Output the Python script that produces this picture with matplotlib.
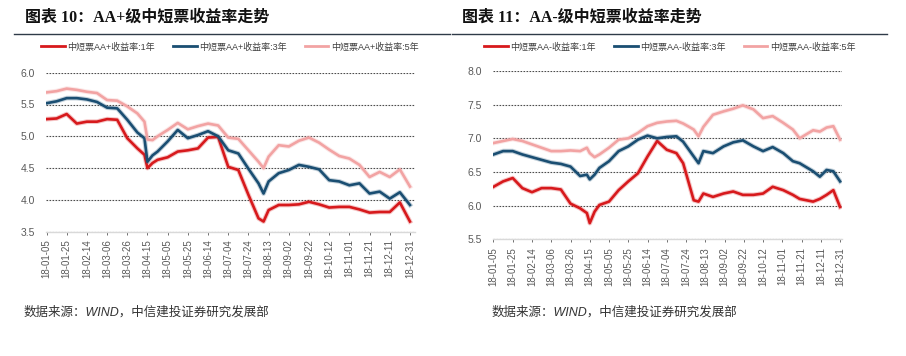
import numpy as np
import pandas as pd
import matplotlib
matplotlib.use("Agg")
import matplotlib.pyplot as plt
import matplotlib.dates as mdates
import matplotlib.patheffects as pe

plt.rcParams['font.family'] = ['Liberation Sans', 'Noto Sans CJK SC', 'DejaVu Sans']

# ---- left chart: AA+ ----
dates_l = pd.to_datetime([
    "2018-01-05", "2018-01-15", "2018-01-25", "2018-02-04", "2018-02-14", "2018-02-24",
    "2018-03-06", "2018-03-16", "2018-03-26", "2018-04-05", "2018-04-12", "2018-04-15",
    "2018-04-20", "2018-04-25", "2018-05-05", "2018-05-15", "2018-05-25", "2018-06-04",
    "2018-06-14", "2018-06-24", "2018-07-04", "2018-07-14", "2018-07-24", "2018-08-03",
    "2018-08-08", "2018-08-13", "2018-08-23", "2018-09-02", "2018-09-12", "2018-09-22",
    "2018-10-02", "2018-10-12", "2018-10-22", "2018-11-01", "2018-11-11", "2018-11-21",
    "2018-12-01", "2018-12-11", "2018-12-21", "2018-12-31"])
aap_1y = [5.27, 5.28, 5.35, 5.20, 5.23, 5.23, 5.27, 5.26, 4.97, 4.81,
          4.71, 4.50, 4.58, 4.63, 4.67, 4.76, 4.78, 4.81, 4.98, 4.99,
          4.52, 4.47, 4.08, 3.71, 3.66, 3.84, 3.92, 3.92, 3.93, 3.97,
          3.93, 3.88, 3.89, 3.89, 3.85, 3.80, 3.81, 3.81, 3.96, 3.66]
aap_3y = [5.52, 5.55, 5.60, 5.60, 5.58, 5.54, 5.45, 5.44, 5.26, 5.06,
          4.97, 4.60, 4.70, 4.76, 4.92, 5.10, 4.97, 5.02, 5.08, 5.00,
          4.78, 4.73, 4.49, 4.26, 4.10, 4.29, 4.42, 4.47, 4.55, 4.52,
          4.48, 4.31, 4.29, 4.23, 4.26, 4.10, 4.13, 4.02, 4.12, 3.92]
aap_5y = [5.69, 5.71, 5.75, 5.73, 5.70, 5.68, 5.57, 5.56, 5.47, 5.36,
          5.23, 4.95, 4.94, 5.00, 5.10, 5.21, 5.11, 5.16, 5.20, 5.17,
          4.98, 4.96, 4.78, 4.60, 4.50, 4.68, 4.86, 4.84, 4.93, 4.98,
          4.90, 4.79, 4.69, 4.65, 4.55, 4.36, 4.44, 4.36, 4.48, 4.21]

# ---- right chart: AA- ----
dates_r = pd.to_datetime([
    "2018-01-05", "2018-01-15", "2018-01-25", "2018-02-04", "2018-02-14", "2018-02-24",
    "2018-03-06", "2018-03-16", "2018-03-26", "2018-04-05", "2018-04-12", "2018-04-15",
    "2018-04-20", "2018-04-25", "2018-05-05", "2018-05-15", "2018-05-25", "2018-06-04",
    "2018-06-14", "2018-06-24", "2018-07-04", "2018-07-14", "2018-07-21", "2018-07-26",
    "2018-08-01", "2018-08-06", "2018-08-11", "2018-08-21", "2018-09-01", "2018-09-11",
    "2018-09-21", "2018-10-02", "2018-10-12", "2018-10-22", "2018-11-02", "2018-11-12",
    "2018-11-19", "2018-12-03", "2018-12-10", "2018-12-17", "2018-12-24", "2018-12-31"])
aam_1y = [6.28, 6.36, 6.41, 6.26, 6.20, 6.26, 6.26, 6.24, 6.03, 5.96,
          5.89, 5.74, 5.91, 6.01, 6.06, 6.23, 6.36, 6.48, 6.73, 6.96,
          6.83, 6.78, 6.63, 6.38, 6.08, 6.06, 6.18, 6.13, 6.18, 6.21,
          6.16, 6.16, 6.18, 6.28, 6.23, 6.16, 6.10, 6.06, 6.10, 6.16,
          6.23, 5.98]
aam_3y = [6.76, 6.81, 6.81, 6.76, 6.72, 6.68, 6.64, 6.62, 6.58, 6.44,
          6.46, 6.39, 6.46, 6.56, 6.66, 6.81, 6.88, 6.98, 7.04, 7.00,
          7.02, 7.03, 6.95, 6.85, 6.73, 6.63, 6.81, 6.78, 6.88, 6.94,
          6.97, 6.88, 6.81, 6.87, 6.78, 6.66, 6.63, 6.51, 6.43, 6.53,
          6.51, 6.36]
aam_5y = [6.93, 6.96, 6.99, 6.96, 6.91, 6.86, 6.81, 6.81, 6.82, 6.81,
          6.86, 6.78, 6.72, 6.76, 6.86, 6.98, 7.00, 7.08, 7.18, 7.23,
          7.25, 7.26, 7.22, 7.18, 7.13, 7.03, 7.17, 7.35, 7.40, 7.44,
          7.49, 7.43, 7.30, 7.33, 7.23, 7.13, 7.00, 7.12, 7.10, 7.16,
          7.18, 6.98]

tick_dates = pd.date_range("2018-01-05", "2018-12-31", freq="20D")
colors = ["#D7191C", "#1A4E72", "#F2A3A3"]
titles = ["图表 10：AA+级中短票收益率走势", "图表 11：AA-级中短票收益率走势"]
labels_l = ["中短票AA+收益率:1年", "中短票AA+收益率:3年", "中短票AA+收益率:5年"]
labels_r = ["中短票AA-收益率:1年", "中短票AA-收益率:3年", "中短票AA-收益率:5年"]
source = "数据来源：WIND，中信建投证券研究发展部"

fig = plt.figure(figsize=(9.06, 3.56), dpi=100)

ax1 = fig.add_axes([46 / 906, 1 - 231.7 / 356, 369 / 906, 159 / 356])
ax2 = fig.add_axes([493 / 906, 1 - 239.3 / 356, 349 / 906, 168.3 / 356])

panels = [
    (ax1, dates_l, [aap_1y, aap_3y, aap_5y], labels_l, (3.5, 6.0), 5),
    (ax2, dates_r, [aam_1y, aam_3y, aam_5y], labels_r, (5.5, 8.0), 2),
]

for ax, dates, series, labels, ylim, pad in panels:
    for vals, c, lab in zip(series, colors, labels):
        ax.plot(dates, vals, color=c, lw=1.9, label=lab, solid_joinstyle='round',
                path_effects=[pe.Stroke(linewidth=3.4, foreground=c, alpha=0.25), pe.Normal()])
    ax.set_ylim(*ylim)
    ax.set_yticks(np.arange(ylim[0], ylim[1] + 0.01, 0.5))
    ax.yaxis.set_major_formatter(matplotlib.ticker.FormatStrFormatter('%.1f'))
    ax.set_xlim(pd.Timestamp("2018-01-04 12:00"), pd.Timestamp("2018-12-31") + pd.Timedelta(days=pad))
    ax.set_xticks(tick_dates)
    ax.xaxis.set_major_formatter(mdates.DateFormatter('%y-%m-%d'))
    ax.tick_params(axis='x', labelrotation=90, labelsize=7, colors='#595959', length=2, width=0.6)
    ax.tick_params(axis='y', labelsize=7.5, colors='#595959', length=0, pad=8)
    ax.grid(axis='y', color='#4d4d4d', linestyle=(0, (1.5, 1.2)), linewidth=0.8)
    ax.set_axisbelow(True)
    for s in ['top', 'right', 'left']:
        ax.spines[s].set_visible(False)
    ax.spines['bottom'].set_color('#d9d9d9')
    ax.spines['bottom'].set_linewidth(1.0)
    ax.spines['bottom'].set_zorder(3)

# legends
leg_kw = dict(ncol=3, frameon=False, fontsize=6.5, handlelength=2.6, handletextpad=0.3,
              columnspacing=2.0, labelcolor='#404040')
fig.legend([plt.Line2D([], [], color=c, lw=2) for c in colors], labels_l, loc='center',
           bbox_to_anchor=(230 / 906, 1 - 47 / 356), **leg_kw)
fig.legend([plt.Line2D([], [], color=c, lw=2) for c in colors], labels_r, loc='center',
           bbox_to_anchor=(670 / 906, 1 - 47 / 356), **leg_kw)

# titles and rules
title_font = ['Liberation Serif', 'Noto Sans CJK SC']
fig.text(25 / 906, 1 - 18 / 356, titles[0], family=title_font, fontsize=11.5,
         fontweight='bold', va='center', ha='left', color='#111111')
fig.text(462 / 906, 1 - 18 / 356, titles[1], family=title_font, fontsize=11.5,
         fontweight='bold', va='center', ha='left', color='#111111')
fig.add_artist(plt.Line2D([14 / 906, 450 / 906], [1 - 33.5 / 356] * 2, color='#2f3b48', lw=1.0))
fig.add_artist(plt.Line2D([452 / 906, 887 / 906], [1 - 33.5 / 356] * 2, color='#2f3b48', lw=1.0))

# sources
src_font = ['Liberation Sans', 'Noto Sans CJK SC']
fig.text(24 / 906, 1 - 312 / 356, source, family=src_font, fontsize=9, style='italic',
         va='center', ha='left', color='#333333')
fig.text(492 / 906, 1 - 312 / 356, source, family=src_font, fontsize=9, style='italic',
         va='center', ha='left', color='#333333')

fig.savefig("out.png", dpi=100, facecolor='white')
